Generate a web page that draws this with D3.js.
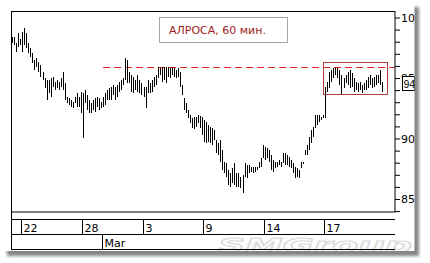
<!DOCTYPE html>
<html><head><meta charset="utf-8">
<script src="https://cdn.jsdelivr.net/npm/d3@7"></script>
<style>html,body{margin:0;padding:0;background:#fff;}svg{display:block}</style>
</head><body>
<svg id="c" width="430" height="263"></svg>
<script>
const highs = [98.36,98.41,97.87,98.69,98.20,98.83,99.11,98.69,97.87,97.45,97.04,96.49,96.63,96.35,96.07,95.52,94.98,94.83,94.83,94.98,95.11,94.69,94.83,94.69,94.98,95.52,94.56,93.45,93.32,93.18,93.04,93.45,93.74,93.45,93.87,93.74,94.01,93.60,93.18,92.91,93.18,93.32,93.45,93.32,93.04,93.45,93.74,94.01,94.15,94.28,94.42,94.28,94.42,94.69,94.83,94.98,96.63,96.49,95.52,95.25,95.11,94.83,95.25,94.83,94.56,94.28,94.28,94.83,94.56,94.83,95.11,95.25,95.93,95.80,95.93,95.93,95.93,95.93,95.80,95.93,95.80,95.66,95.80,95.52,94.42,93.32,92.91,92.36,91.94,91.67,91.80,91.80,
91.94,91.90,91.78,91.53,91.39,91.12,90.98,90.84,
90.70,89.88,89.60,89.88,89.05,88.08,87.95,87.40,87.12,87.54,87.95,87.12,87.12,86.84,86.98,87.95,87.81,87.81,87.67,87.67,87.67,87.67,88.08,88.36,89.46,89.32,89.19,89.05,88.64,88.22,88.08,88.08,88.22,88.08,88.78,88.78,88.64,88.50,88.22,87.95,87.67,87.54,87.40,88.08,88.08,89.05,89.46,90.15,90.70,90.98,
91.94,91.94,91.94,91.80,91.94,94.28,
94.69,95.52,95.66,95.80,95.85,95.80,95.66,95.25,94.98,95.25,95.52,95.66,95.39,94.98,94.69,94.56,94.69,94.42,94.56,94.83,95.11,95.25,94.98,95.11,95.25,95.25,95.66,94.69];
const lows = [97.92,97.73,97.17,97.59,97.73,97.17,97.73,97.45,97.04,96.76,96.21,95.66,95.93,95.52,95.11,94.83,94.15,93.18,93.74,93.45,94.28,94.01,94.15,94.01,94.28,94.01,93.18,92.91,92.77,92.63,92.50,92.91,92.63,92.63,92.08,90.04,92.91,92.36,92.08,92.08,92.36,92.21,92.63,92.36,92.50,92.63,92.77,93.18,93.18,93.18,93.60,93.18,93.45,93.87,94.01,94.42,94.83,94.56,94.56,93.87,93.74,94.01,93.87,93.74,93.60,93.45,92.50,93.74,93.74,93.87,94.28,94.42,94.98,95.25,94.69,94.83,94.56,95.11,94.98,95.25,95.11,94.98,95.11,94.28,93.60,92.36,92.08,91.67,91.26,90.84,90.76,90.98,
91.28,90.90,90.29,89.71,89.60,89.74,89.60,89.46,
89.88,88.78,88.64,88.08,87.40,87.12,86.84,86.16,86.02,86.30,86.16,86.02,86.02,85.88,85.47,86.84,86.71,87.12,87.26,87.12,87.26,87.40,87.54,87.67,88.36,88.22,88.36,88.08,87.40,87.26,87.54,87.67,87.81,87.67,87.95,87.81,87.81,87.67,87.54,87.12,86.71,86.84,86.71,87.54,87.95,88.64,88.64,89.05,89.60,90.15,
90.84,91.12,91.39,91.53,91.67,91.67,
93.87,94.15,94.69,94.98,95.25,94.98,94.42,93.60,94.15,94.56,94.42,94.15,94.28,93.87,94.01,93.87,94.01,93.74,94.01,94.01,94.15,94.42,94.15,94.28,94.42,94.56,94.42,93.87];
const yTicks = [84,85,86,87,88,89,90,91,92,93,94,95,96,97,98,99,100];
const yLabels = [85,90,95,100];
const dateLabels = ["22","28","3","9","14","17"];
const dateBarIdx = [4.5,34.5,64.5,94.5,124.5,154.5];
const monthLabels = ["Mar"];
const monthBarIdx = [44.5];
const titleText = "АЛРОСА, 60 мин.";
const watermarkText = "SMGroup";
const lastPrice = 94;
const resistance = 95.87;
const resistanceFrom = 45;
const rangeBox = {from: 153.9, to: 185.4, hi: 96.3, lo: 93.65};

const N = highs.length;
const svg = d3.select("#c");
const font = "DejaVu Sans, sans-serif";
const defs = svg.append("defs");
defs.append("filter").attr("id","blur").attr("x","-5%").attr("y","-5%").attr("width","110%").attr("height","110%")
  .append("feGaussianBlur").attr("stdDeviation",1.8);
defs.append("clipPath").attr("id","pc").append("rect").attr("x",0).attr("y",0).attr("width",414.5).attr("height",251);

svg.append("rect").attr("x",7).attr("y",7).attr("width",412).attr("height",249).attr("fill","#858585").attr("filter","url(#blur)");
svg.append("rect").attr("x",0).attr("y",0).attr("width",414.5).attr("height",251).attr("fill","#fff");

const root = svg.append("g").attr("clip-path","url(#pc)");

// watermark (faint)
root.append("text").attr("x",218).attr("y",252).attr("font-family",font).attr("font-size",19)
  .attr("font-style","italic").attr("font-weight","bold").attr("fill","#fbfbfb").attr("stroke","#dadada")
  .attr("stroke-width",1).attr("textLength",194).attr("lengthAdjust","spacingAndGlyphs").text(watermarkText);

const x = d3.scaleLinear().domain([0,183]).range([12.2,381.9]);
const y = d3.scaleLinear().domain([85,100]).range([199,17.5]);
const px = v => Math.round(v)+0.5;

// title box
root.append("rect").attr("x",159.5).attr("y",17.5).attr("width",128).attr("height",25).attr("fill","#fff").attr("stroke","#a8a8a8");
root.append("text").attr("x",169).attr("y",33.5).attr("font-family",font).attr("font-size",11).attr("fill","#a01c1c").text(titleText);

// resistance line
root.append("line").attr("x1",x(resistanceFrom)).attr("x2",395).attr("y1",px(y(resistance))).attr("y2",px(y(resistance)))
  .attr("stroke","#e01e1e").attr("stroke-width",1.1).attr("stroke-dasharray","7,4");

// bars
root.append("g").selectAll("line").data(d3.range(N)).join("line")
  .attr("x1",i=>px(x(i))).attr("x2",i=>px(x(i)))
  .attr("y1",i=>Math.round(y(highs[i]))).attr("y2",i=>Math.max(Math.round(y(lows[i])),Math.round(y(highs[i]))+2))
  .attr("stroke","#000").attr("stroke-width",1);

// range box
root.append("rect").attr("x",px(x(rangeBox.from))).attr("y",px(y(rangeBox.hi)))
  .attr("width",Math.round(x(rangeBox.to)-x(rangeBox.from))).attr("height",Math.round(y(rangeBox.lo)-y(rangeBox.hi)))
  .attr("fill","none").attr("stroke","#b03c3c");

// plot frame
root.append("rect").attr("x",11.5).attr("y",11.5).attr("width",383.5).attr("height",200.5).attr("fill","none").attr("stroke","#000");

// y axis
const ax = root.append("g").attr("transform","translate(395,0)")
  .call(d3.axisRight(y).tickValues(yTicks).tickSize(5).tickPadding(1).tickFormat(d=>yLabels.includes(d)?d:""));
ax.select(".domain").remove();
ax.selectAll("line").attr("stroke","#000");
ax.selectAll("text").attr("font-family",font).attr("font-size",11).attr("fill","#000");

// last price box
root.append("rect").attr("x",402.5).attr("y",76.5).attr("width",12).attr("height",14).attr("fill","#fff").attr("stroke","#000");
root.append("text").attr("x",403.5).attr("y",88).attr("font-family","Liberation Sans, Arial, sans-serif").attr("font-size",10.5).text(lastPrice);

// date rows
const rows = root.append("g").attr("stroke","#000");
[219.5,234.5,249.5].forEach(v=>rows.append("line").attr("x1",11).attr("x2",395).attr("y1",v).attr("y2",v));
rows.append("line").attr("x1",11.5).attr("x2",11.5).attr("y1",212).attr("y2",250);
dateBarIdx.forEach((d,i)=>{
  const xx = px(x(d));
  rows.append("line").attr("x1",xx).attr("x2",xx).attr("y1",219.5).attr("y2",234.5);
  root.append("text").attr("x",xx+2).attr("y",231.5).attr("font-family",font).attr("font-size",11).text(dateLabels[i]);
});
monthBarIdx.forEach((d,i)=>{
  const xx = px(x(d));
  rows.append("line").attr("x1",xx).attr("x2",xx).attr("y1",234.5).attr("y2",249.5);
  root.append("text").attr("x",xx+2).attr("y",246.5).attr("font-family",font).attr("font-size",11).text(monthLabels[i]);
});
</script>
</body></html>
